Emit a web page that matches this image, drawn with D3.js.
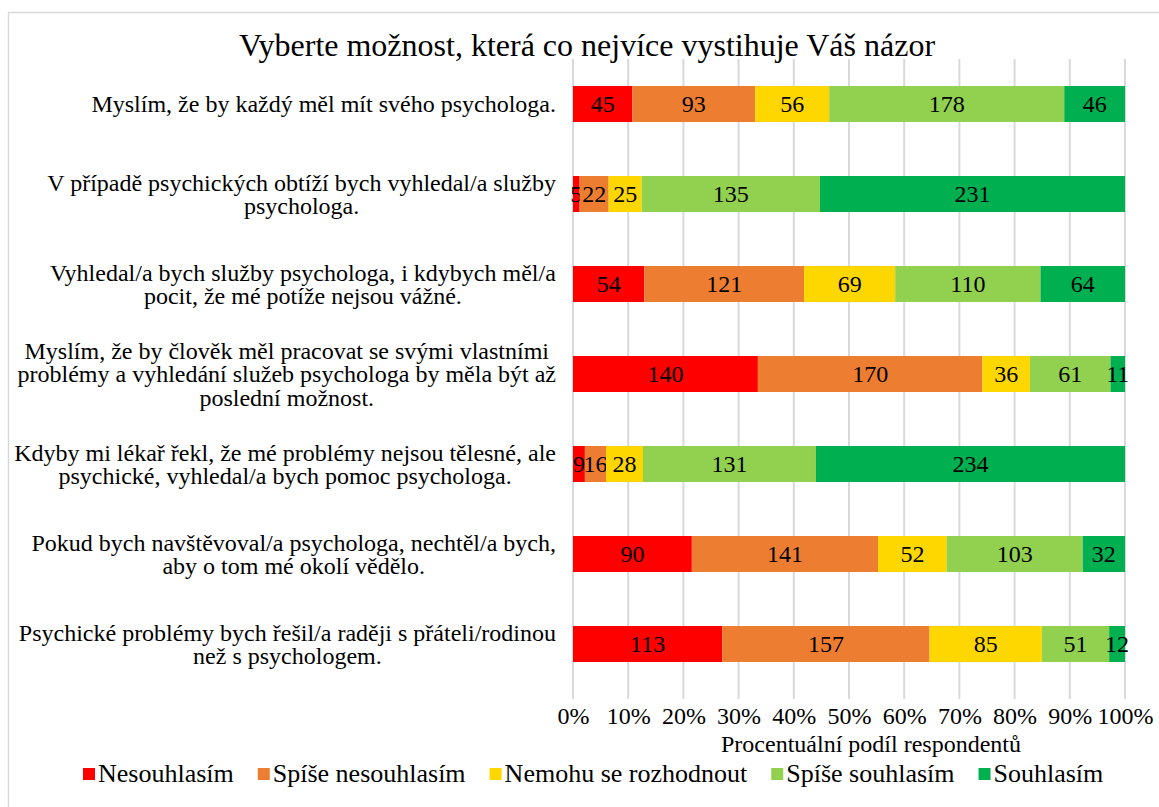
<!DOCTYPE html>
<html><head><meta charset="utf-8">
<script src="https://cdn.jsdelivr.net/npm/d3@7"></script>
<style>body{margin:0;background:#fff}svg{display:block}text{font-family:"Liberation Serif","Times New Roman",serif}</style>
</head><body><svg id="c" width="1159" height="807"></svg>
<script>
const title = "Vyberte možnost, která co nejvíce vystihuje Váš názor";
const categories = [
  ["Myslím, že by každý měl mít svého psychologa."],
  ["V případě psychických obtíží bych vyhledal/a služby", "psychologa."],
  ["Vyhledal/a bych služby psychologa, i kdybych měl/a", "pocit, že mé potíže nejsou vážné."],
  ["Myslím, že by člověk měl pracovat se svými vlastními", "problémy a vyhledání služeb psychologa by měla být až", "poslední možnost."],
  ["Kdyby mi lékař řekl, že mé problémy nejsou tělesné, ale", "psychické, vyhledal/a bych pomoc psychologa."],
  ["Pokud bych navštěvoval/a psychologa, nechtěl/a bych,", "aby o tom mé okolí vědělo."],
  ["Psychické problémy bych řešil/a raději s přáteli/rodinou", "než s psychologem."]
];
const seriesNames = ["Nesouhlasím", "Spíše nesouhlasím", "Nemohu se rozhodnout", "Spíše souhlasím", "Souhlasím"];
const nesouhlasim      = [45, 5, 54, 140, 9, 90, 113];
const spiseNesouhlasim = [93, 22, 121, 170, 16, 141, 157];
const nemohu           = [56, 25, 69, 36, 28, 52, 85];
const spiseSouhlasim   = [178, 135, 110, 61, 131, 103, 51];
const souhlasim        = [46, 231, 64, 11, 234, 32, 12];
const colors = ["#FF0000", "#ED7D31", "#FFD700", "#92D050", "#00B050"];
const xTicks = [0, 0.1, 0.2, 0.3, 0.4, 0.5, 0.6, 0.7, 0.8, 0.9, 1];
const xTitle = "Procentuální podíl respondentů";

const svg = d3.select("#c");
const W = 1159, H = 807;
const m = {left: 573, right: 1125, top: 59, bottom: 689};

// chart border
svg.append("rect").attr("x", 8.5).attr("y", 12.5).attr("width", W + 20).attr("height", H + 20)
  .attr("fill", "#fff").attr("stroke", "#d9d9d9").attr("stroke-width", 1.5);

const seriesArrays = [nesouhlasim, spiseNesouhlasim, nemohu, spiseSouhlasim, souhlasim];
const rows = categories.map((c, i) => {
  const o = {idx: i};
  seriesArrays.forEach((a, k) => o["s" + k] = a[i]);
  return o;
});
const keys = seriesNames.map((_, k) => "s" + k);
const stacked = d3.stack().keys(keys).offset(d3.stackOffsetExpand)(rows);

const x = d3.scaleLinear().domain([0, 1]).range([m.left, m.right]);
const y = d3.scaleBand().domain(d3.range(categories.length)).range([m.top, m.bottom]).paddingInner(0.6).paddingOuter(0.3);

// gridlines
svg.append("g").selectAll("line").data(xTicks).join("line")
  .attr("x1", d => x(d)).attr("x2", d => x(d))
  .attr("y1", m.top).attr("y2", m.bottom + 10)
  .attr("stroke", "#d9d9d9").attr("stroke-width", 2);

// bars
const g = svg.append("g");
stacked.forEach((s, k) => {
  g.append("g").attr("fill", colors[k]).selectAll("rect").data(s).join("rect")
    .attr("x", d => x(d[0])).attr("width", d => x(d[1]) - x(d[0]))
    .attr("y", (d, i) => y(i)).attr("height", y.bandwidth());
  g.append("g").selectAll("text").data(s).join("text")
    .attr("x", d => (x(d[0]) + x(d[1])) / 2)
    .attr("y", (d, i) => y(i) + y.bandwidth() / 2)
    .attr("dy", "0.35em").attr("text-anchor", "middle")
    .attr("font-size", 24).attr("fill", "#000")
    .text((d, i) => seriesArrays[k][i]);
});

// x tick labels
const ax = d3.axisBottom(x).tickValues(xTicks).tickFormat(d3.format(".0%")).tickSize(0).tickPadding(0);
const axg = svg.append("g").attr("transform", `translate(0,${m.bottom + 35})`).call(ax);
axg.select(".domain").remove();
axg.selectAll("text").attr("font-size", 24).attr("font-family", "Liberation Serif").attr("fill", "#000").attr("dy", "0");

// axis title
svg.append("text").attr("x", (m.left + m.right) / 2 + 22).attr("y", 752).attr("text-anchor", "middle")
  .attr("font-size", 24).text(xTitle);

// category labels
const lineH = 23.5;
categories.forEach((lines, i) => {
  const cy = y(i) + y.bandwidth() / 2;
  const t = svg.append("text").attr("font-size", 24).attr("text-anchor", "middle");
  lines.forEach((ln, j) => {
    t.append("tspan").attr("x", 0).attr("y", cy + (j - (lines.length - 1) / 2) * lineH).attr("dy", "0.35em").text(ln);
  });
  const bb = t.node().getBBox();
  t.attr("transform", `translate(${556 - bb.width / 2},0)`);
});

// title
svg.append("text").attr("x", 587).attr("y", 56).attr("text-anchor", "middle").attr("font-size", 32).text(title);

// legend
const leg = svg.append("g").attr("transform", "translate(0,773)");
let lx = 83;
seriesNames.forEach((n, k) => {
  leg.append("rect").attr("x", lx).attr("y", -5).attr("width", 12).attr("height", 12).attr("fill", colors[k]);
  const t = leg.append("text").attr("x", lx + 15).attr("y", 0).attr("dy", "0.35em").attr("font-size", 26).text(n);
  lx += 15 + t.node().getComputedTextLength() + 24;
});
</script></body></html>
